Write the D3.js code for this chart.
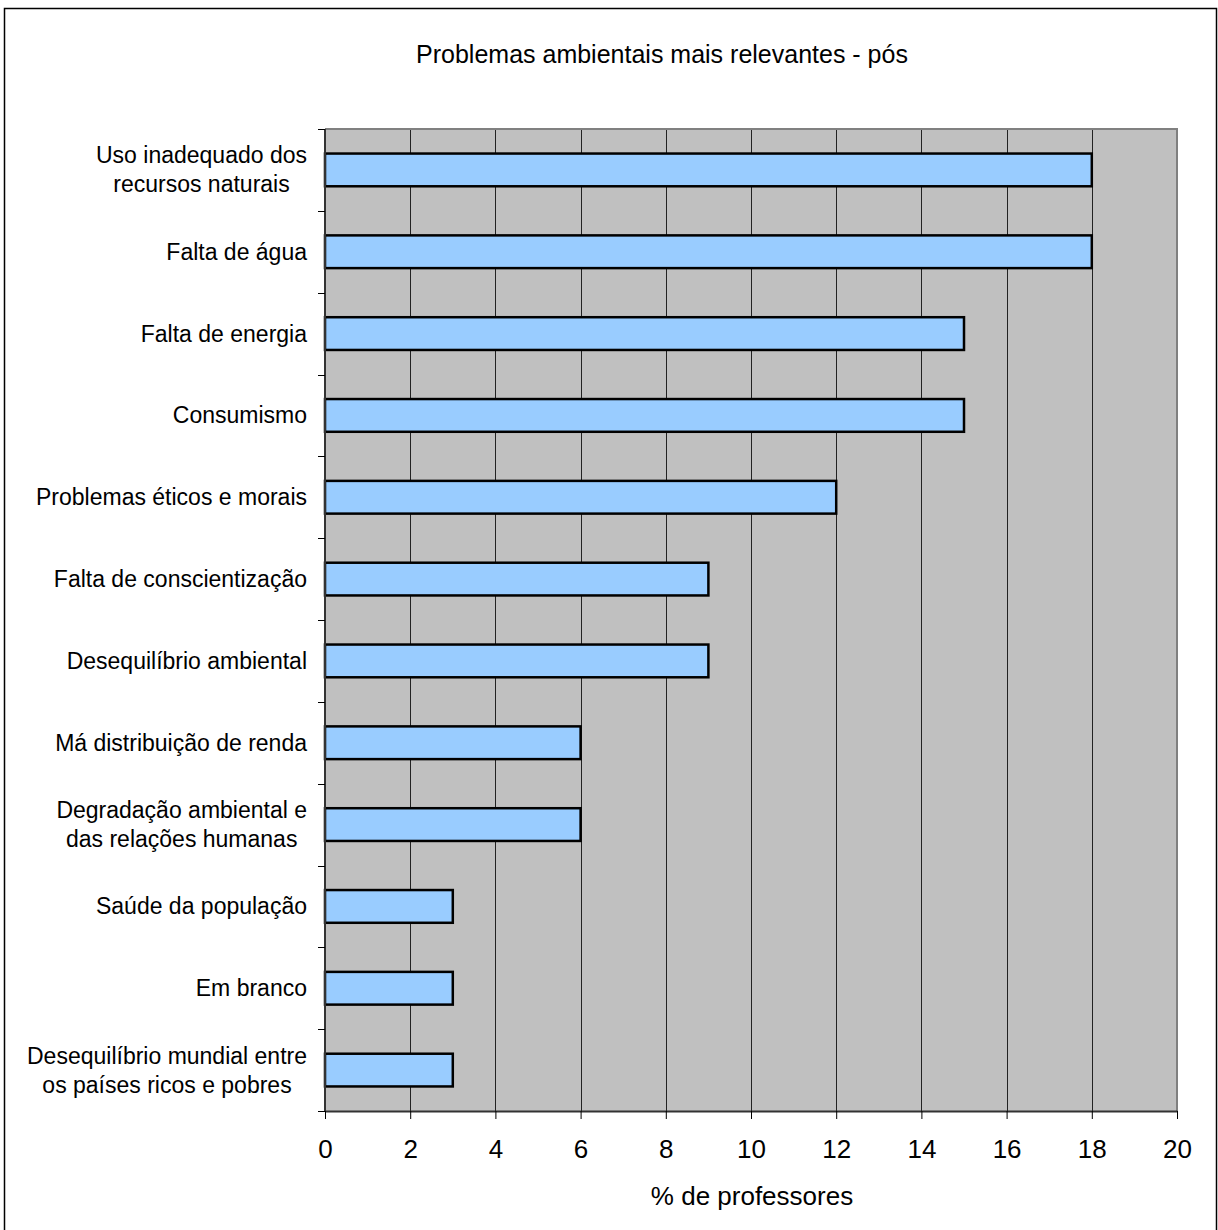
<!DOCTYPE html>
<html>
<head>
<meta charset="utf-8">
<script src="https://cdn.jsdelivr.net/npm/d3@7"></script>
<style>
  body { margin: 0; background: #fff; overflow: hidden; }
  text { font-family: "Liberation Sans", Arial, sans-serif; fill: #000; }
</style>
</head>
<body>
<div id="chart"></div>
<script>
var categories = [
  ["Uso inadequado dos", "recursos naturais"],
  ["Falta de água"],
  ["Falta de energia"],
  ["Consumismo"],
  ["Problemas éticos e morais"],
  ["Falta de conscientização"],
  ["Desequilíbrio ambiental"],
  ["Má distribuição de renda"],
  ["Degradação ambiental e", "das relações humanas"],
  ["Saúde da população"],
  ["Em branco"],
  ["Desequilíbrio mundial entre", "os países ricos e pobres"]
];
var values = [18, 18, 15, 15, 12, 9, 9, 6, 6, 3, 3, 3];
var xTicks = [0, 2, 4, 6, 8, 10, 12, 14, 16, 18, 20];
var title = "Problemas ambientais mais relevantes - pós";
var xTitle = "% de professores";

var W = 1218, H = 1230,
    plot = { left: 325, right: 1177, top: 129, bottom: 1111 };

var svg = d3.select("#chart").append("svg")
    .attr("width", W)
    .attr("height", H)
    .style("display", "block");

// outer frame (bottom edge falls outside the picture)
svg.append("rect")
    .attr("x", 4.5).attr("y", 8.5)
    .attr("width", 1212).attr("height", 1240)
    .attr("fill", "#fff")
    .attr("stroke", "#000")
    .attr("stroke-width", 1.5);

var x = d3.scaleLinear().domain([0, 20]).range([plot.left, plot.right]);
var y = d3.scaleBand()
    .domain(d3.range(categories.length))
    .range([plot.top, plot.bottom])
    .paddingInner(0.6)
    .paddingOuter(0.3);

// plot background
svg.append("rect")
    .attr("x", plot.left).attr("y", plot.top)
    .attr("width", plot.right - plot.left).attr("height", plot.bottom - plot.top)
    .attr("fill", "#c0c0c0");

// grid lines
svg.selectAll(".grid")
    .data(xTicks.slice(1, -1))
    .enter().append("line")
    .attr("class", "grid")
    .attr("x1", function (d) { return Math.round(x(d)) + 0.5; })
    .attr("x2", function (d) { return Math.round(x(d)) + 0.5; })
    .attr("y1", plot.top).attr("y2", plot.bottom)
    .attr("stroke", "#222")
    .attr("stroke-width", 1);

// plot border top / right
svg.append("path")
    .attr("d", "M" + plot.left + "," + plot.top + "H" + plot.right + "V" + plot.bottom)
    .attr("fill", "none")
    .attr("stroke", "#808080")
    .attr("stroke-width", 2);

// bars
svg.selectAll(".bar")
    .data(values)
    .enter().append("rect")
    .attr("class", "bar")
    .attr("x", x(0))
    .attr("y", function (d, i) { return y(i); })
    .attr("width", function (d) { return x(d) - x(0); })
    .attr("height", y.bandwidth())
    .attr("fill", "#99ccff")
    .attr("stroke", "#000")
    .attr("stroke-width", 2.5);

// x axis
var xAxis = svg.append("g")
    .attr("transform", "translate(0," + plot.bottom + ")")
    .call(d3.axisBottom(x).tickValues(xTicks).tickSize(8).tickPadding(21).tickSizeOuter(0));
xAxis.select(".domain").attr("stroke", "#333").attr("stroke-width", 2);
xAxis.selectAll(".tick line").attr("stroke", "#000");
xAxis.selectAll("text")
    .style("font-family", "Liberation Sans, Arial, sans-serif")
    .style("font-size", "26px");

// y axis line and ticks at band boundaries
var yb = d3.range(categories.length + 1).map(function (i) { return plot.top + i * (plot.bottom - plot.top) / categories.length; });
svg.append("line")
    .attr("x1", plot.left).attr("x2", plot.left)
    .attr("y1", plot.top).attr("y2", plot.bottom)
    .attr("stroke", "#333").attr("stroke-width", 2);
svg.selectAll(".ytick")
    .data(yb)
    .enter().append("line")
    .attr("class", "ytick")
    .attr("x1", plot.left - 7).attr("x2", plot.left)
    .attr("y1", function (d) { return Math.round(d) + 0.5; })
    .attr("y2", function (d) { return Math.round(d) + 0.5; })
    .attr("stroke", "#000");

// category labels
var labels = svg.selectAll(".catLabel")
    .data(categories)
    .enter().append("text")
    .attr("class", "catLabel")
    .style("font-size", "23px")
    .attr("text-anchor", "middle");
labels.each(function (lines, i) {
  var t = d3.select(this);
  var cy = y(i) + y.bandwidth() / 2;
  var lh = 29;
  lines.forEach(function (s, k) {
    t.append("tspan")
      .attr("y", cy + (k - (lines.length - 1) / 2) * lh)
      .attr("dy", "0.35em")
      .text(s);
  });
  var maxW = 0;
  t.selectAll("tspan").each(function () { maxW = Math.max(maxW, this.getComputedTextLength()); });
  t.selectAll("tspan").attr("x", 307 - maxW / 2);
});

// titles
svg.append("text")
    .attr("x", 662).attr("y", 63)
    .attr("text-anchor", "middle")
    .style("font-size", "25px")
    .text(title);

svg.append("text")
    .attr("x", 752).attr("y", 1205)
    .attr("text-anchor", "middle")
    .style("font-size", "26px")
    .text(xTitle);
</script>
</body>
</html>
